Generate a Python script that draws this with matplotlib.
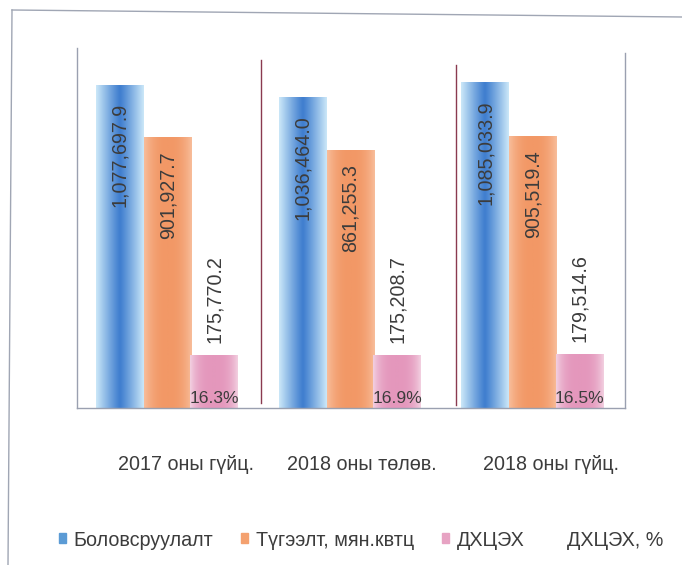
#!/usr/bin/env python3
# Electricity production / distribution bar chart (scan recreation)

import numpy as np
import matplotlib.pyplot as plt
from matplotlib.patches import Patch
from matplotlib.colors import LinearSegmentedColormap
from matplotlib.lines import Line2D

plt.rcParams['font.family'] = ['Liberation Sans', 'DejaVu Sans']

categories = ['2017 оны гүйц.', '2018 оны төлөв.', '2018 оны гүйц.']
series_names = ['Боловсруулалт', 'Түгээлт, мян.квтц', 'ДХЦЭХ', 'ДХЦЭХ, %']
production = [1077697.9, 1036464.0, 1085033.9]
distribution = [901927.7, 861255.3, 905519.4]
dhtseh = [175770.2, 175208.7, 179514.6]
dhtseh_pct = [16.3, 16.9, 16.5]

TXT = '#3c3c3c'
FS = 14.2


def fmt(v):
    return f'{v:,.1f}'


def gradient_bar(ax, bar, center, edge, power=1.6):
    # horizontal gradient, dark in the middle and light at the edges
    x0, y0 = bar.get_x(), bar.get_y()
    w, h = bar.get_width(), bar.get_height()
    t = np.abs(np.linspace(-1, 1, 64)) ** power
    cmap = LinearSegmentedColormap.from_list('g', [center, edge])
    img = ax.imshow(t[np.newaxis, :], cmap=cmap, vmin=0, vmax=1,
                    extent=[x0, x0 + w, y0, y0 + h], aspect='auto',
                    interpolation='bicubic', zorder=2)
    img.set_clip_path(bar)


def plot_chart():
    fig = plt.figure(figsize=(6.82, 5.65), dpi=100)
    ax = fig.add_axes([77 / 682, 1 - 408 / 565, 548 / 682, 360 / 565])

    x = np.arange(len(categories))
    width = 0.262
    b1 = ax.bar(x - 0.265, production, width, color='#5b9bd5', zorder=1)
    b2 = ax.bar(x - 0.003, distribution, width, color='#f4a16f', zorder=1)
    b3 = ax.bar(x + 0.252, dhtseh, width, color='#e7a3c3', zorder=1)

    for bar in b1:
        gradient_bar(ax, bar, '#3f7ecf', '#cae7f8', 1.1)
    for bar in b2:
        gradient_bar(ax, bar, '#f29866', '#f8bd9a', 2.5)
    for bar in b3:
        gradient_bar(ax, bar, '#e497bc', '#f2cfe0', 3.0)

    ax.set_xlim(-0.5, 2.5)
    ax.set_ylim(0, 1200000)

    # value labels
    for bar, v in zip(b1, production):
        ax.text(bar.get_x() + bar.get_width() / 2, v - 60000, fmt(v),
                rotation=90, ha='center', va='top', fontsize=FS,
                color=TXT, zorder=5)
    for bar, v in zip(b2, distribution):
        ax.text(bar.get_x() + bar.get_width() / 2, v - 48000, fmt(v),
                rotation=90, ha='center', va='top', fontsize=FS,
                color=TXT, zorder=5)
    for bar, v, p in zip(b3, dhtseh, dhtseh_pct):
        ax.text(bar.get_x() + bar.get_width() / 2, v + 42000, fmt(v),
                rotation=90, ha='center', va='bottom', fontsize=FS,
                color=TXT, zorder=5)
        ax.text(bar.get_x() + bar.get_width() / 2, 33000, f'{p}%',
                ha='center', va='center', fontsize=12.6, color=TXT, zorder=5)

    # category labels (slightly right of center, as in the original)
    for xi, lab, dx in zip(x, categories, [0.097, 0.06, 0.094]):
        ax.text(xi + dx, -0.158, lab, transform=ax.get_xaxis_transform(),
                ha='center', va='center', fontsize=FS, color=TXT)

    # separators between groups
    ax.plot([0.507, 0.507], [17000, 1160000], color='#8a3a50', lw=1, zorder=3)
    ax.plot([1.574, 1.574], [10000, 1143000], color='#8a3a50', lw=1, zorder=3)

    ax.spines['top'].set_visible(False)
    for s in ['left', 'right', 'bottom']:
        ax.spines[s].set_color('#9aa0b0')
        ax.spines[s].set_linewidth(1)
    ax.spines['right'].set_bounds(0, 1185000)
    ax.set_xticks([])
    ax.set_yticks([])

    handles = [Patch(color='#5b9bd5'), Patch(color='#f4a16f'),
               Patch(color='#e7a3c3'), Patch(color='none')]
    fig.legend(handles, series_names, loc='center left',
               bbox_to_anchor=(59 / 682, 1 - 540 / 565), ncol=4,
               frameon=False, fontsize=FS, handlelength=0.35,
               handleheight=0.4, handletextpad=0.4, columnspacing=1.4,
               labelcolor=TXT, borderaxespad=0, borderpad=0)

    # outer chart border (scanned, slightly tilted)
    fig.add_artist(Line2D([12 / 682, 1.0], [1 - 10 / 565, 1 - 17 / 565],
                          color='#a0a6b4', lw=1, transform=fig.transFigure))
    fig.add_artist(Line2D([12 / 682, 8 / 682], [1 - 10 / 565, 0.0],
                          color='#a0a6b4', lw=1, transform=fig.transFigure))

    fig.savefig('out.png', dpi=100, facecolor='white')


def main():
    plot_chart()


if __name__ == "__main__":
    main()
